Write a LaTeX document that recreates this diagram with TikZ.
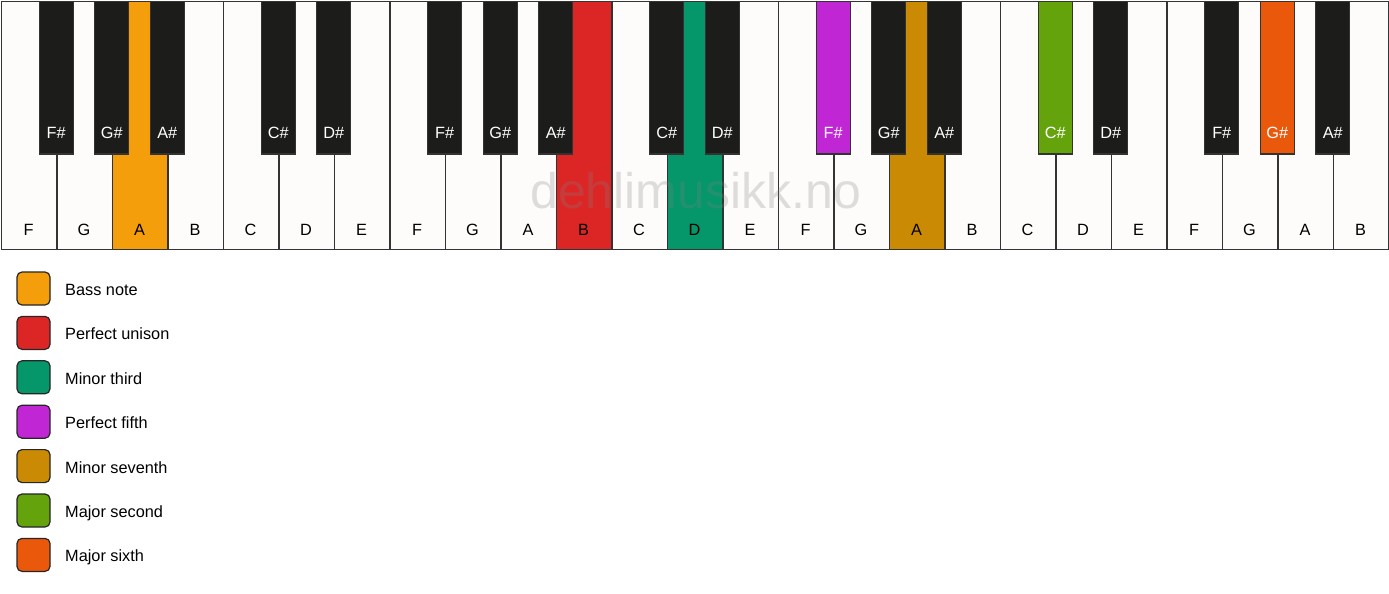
\documentclass[tikz,border=0pt]{standalone}
\usepackage{fontspec}
\setmainfont{Liberation Sans}
\definecolor{wkfill}{HTML}{FDFCFA}
\definecolor{bkfill}{HTML}{1C1C1A}
\definecolor{keyline}{HTML}{333333}
\definecolor{bass}{HTML}{F59E0B}
\definecolor{unison}{HTML}{DC2626}
\definecolor{minthird}{HTML}{059669}
\definecolor{fifth}{HTML}{C026D3}
\definecolor{minseventh}{HTML}{CA8A04}
\definecolor{majsecond}{HTML}{65A30D}
\definecolor{majsixth}{HTML}{EA580C}
\tikzset{
  whitekey/.style={draw=keyline, line width=1.3pt, inner sep=0pt, anchor=north west,
    minimum width=55.5pt, minimum height=248.25pt},
  blackkey/.style={draw=keyline, line width=1.3pt, inner sep=0pt, anchor=north,
    minimum width=34pt, minimum height=152.5pt},
  keytext/.style={font=\fontsize{16.3}{19}\selectfont, inner sep=0pt, anchor=base},
  legbox/.style={draw=black!85, line width=1.2pt, rounded corners=5pt, inner sep=0pt,
    minimum width=33pt, minimum height=33pt},
  legtext/.style={font=\fontsize{16.3}{19}\selectfont, inner sep=0pt, anchor=base west},
  watermark/.style={text=gray, opacity=0.25, inner sep=0pt, font=\fontsize{50}{60}\selectfont}
}
\begin{document}
\begin{tikzpicture}[x=1pt,y=-1pt]
\useasboundingbox (0,0) rectangle (1389,594);
\fill[white] (0,0) rectangle (1389,594);
% white keys
\foreach \i/\c in {0/wkfill,1/wkfill,2/bass,3/wkfill,4/wkfill,5/wkfill,6/wkfill,7/wkfill,
  8/wkfill,9/wkfill,10/unison,11/wkfill,12/minthird,13/wkfill,14/wkfill,15/wkfill,
  16/minseventh,17/wkfill,18/wkfill,19/wkfill,20/wkfill,21/wkfill,22/wkfill,23/wkfill,24/wkfill}{
  \node[whitekey, fill=\c] (w\i) at ({0.75+55.5*\i},0.75) {};
}
\node[watermark, anchor=base west] (wm) at (530,208) {dehlimusikk.no};
\foreach \i/\n in {0/F,1/G,2/A,3/B,4/C,5/D,6/E,7/F,8/G,9/A,10/B,11/C,12/D,13/E,14/F,15/G,16/A,17/B,18/C,19/D,20/E,21/F,22/G,23/A,24/B}{
  \node[keytext] (wl\i) at ({0.75+55.5*(\i+0.5)},235.5) {\n};
}
% black keys
\foreach \i/\n/\c in {0/F\#/bkfill,1/G\#/bkfill,2/A\#/bkfill,
  4/C\#/bkfill,5/D\#/bkfill,7/F\#/bkfill,8/G\#/bkfill,9/A\#/bkfill,
  11/C\#/bkfill,12/D\#/bkfill,14/F\#/fifth,15/G\#/bkfill,16/A\#/bkfill,
  18/C\#/majsecond,19/D\#/bkfill,21/F\#/bkfill,22/G\#/majsixth,23/A\#/bkfill}{
  \node[blackkey, fill=\c] (b\i) at ({0.75+55.5*(\i+1)},0.75) {};
  \node[keytext, text=white] (bl\i) at ({0.75+55.5*(\i+1)},138.5) {\n};
}
% legend
\foreach \k/\c/\s in {0/bass/Bass note,1/unison/Perfect unison,2/minthird/Minor third,
  3/fifth/Perfect fifth,4/minseventh/Minor seventh,5/majsecond/Major second,6/majsixth/Major sixth}{
  \node[legbox, fill=\c] (lb\k) at (33.5,{288.5+44.4*\k}) {};
  \node[legtext] (lt\k) at (65,{295.5+44.4*\k}) {\s};
}
\end{tikzpicture}
\end{document}
